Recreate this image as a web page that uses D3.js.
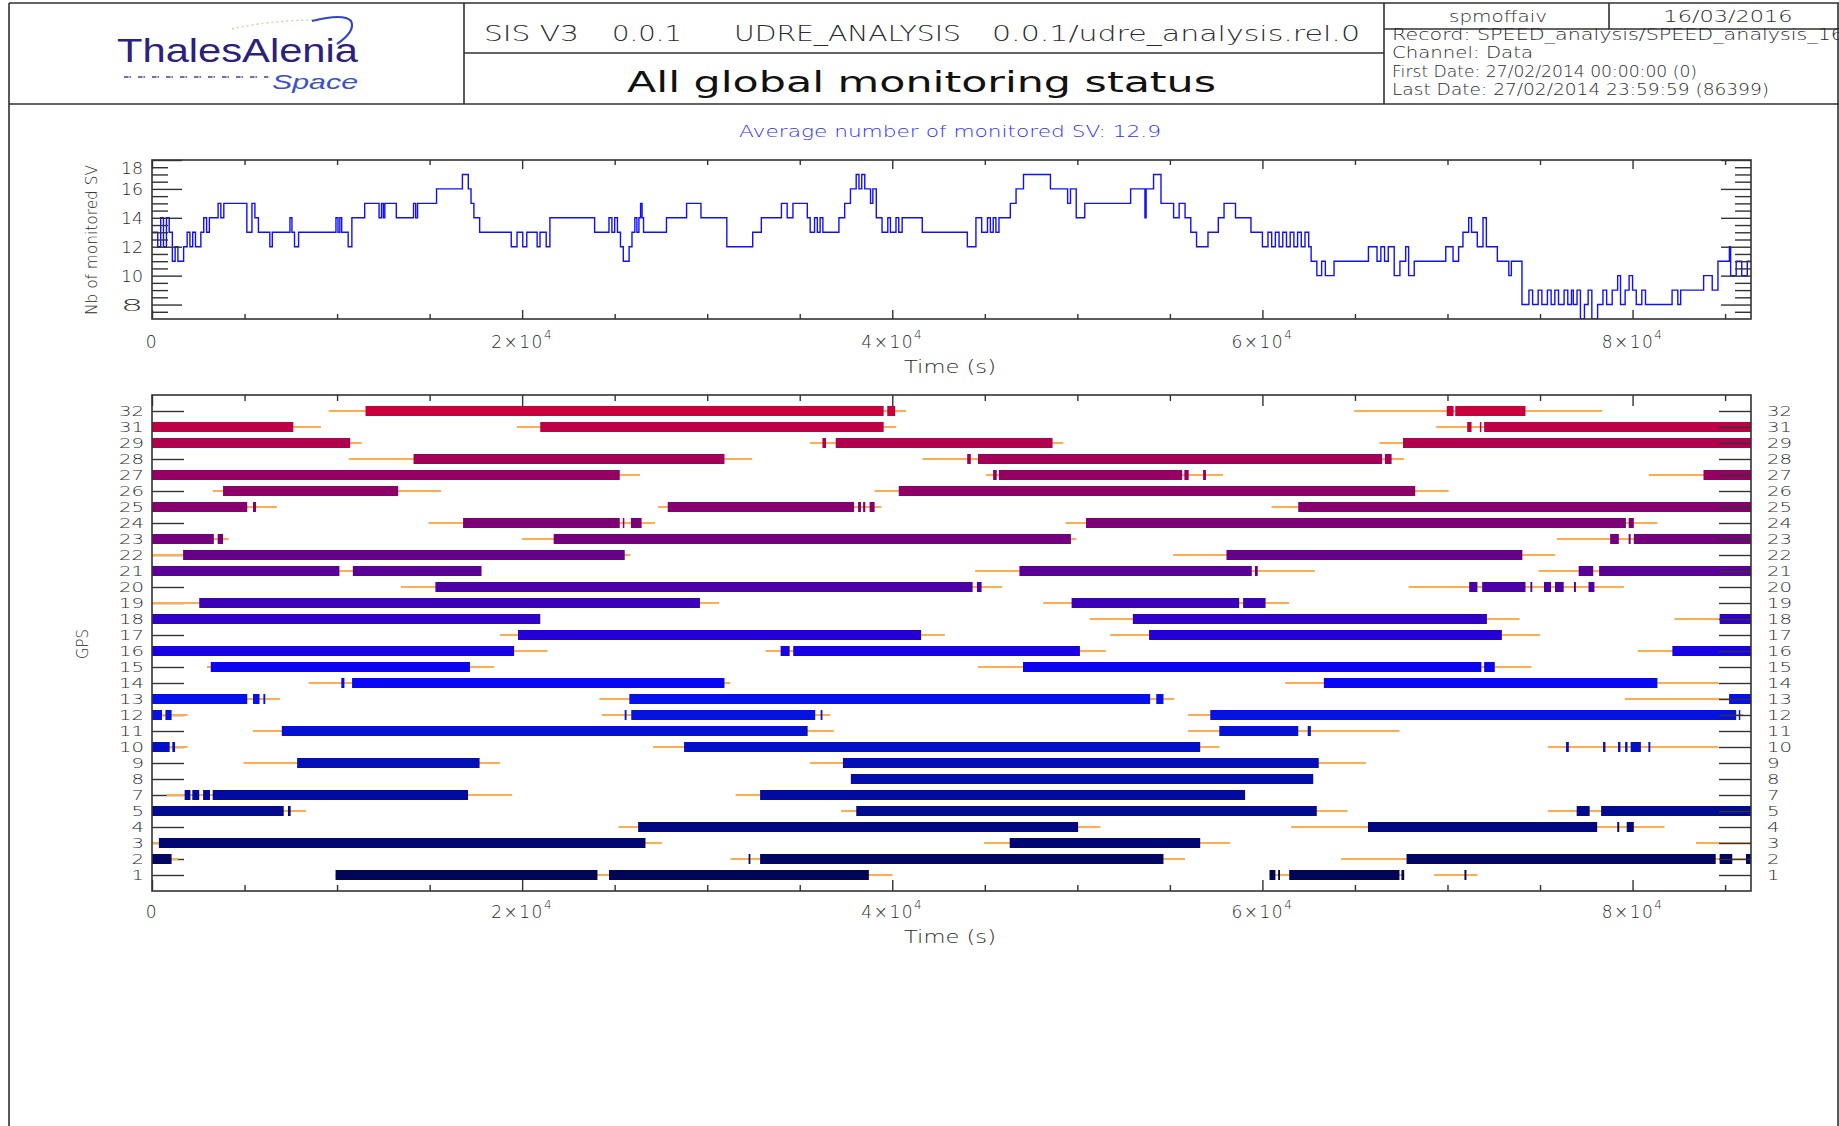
<!DOCTYPE html>
<html>
<head>
<meta charset="utf-8">
<title>All global monitoring status</title>
<script src="https://cdn.jsdelivr.net/npm/d3@7"></script>
<style>
  html, body { margin: 0; padding: 0; background: #fff; }
  svg { display: block; }
</style>
</head>
<body>
<svg id="chart" width="1839" height="1126"></svg>
<script>
// ---------------------------------------------------------------------------
// Data
// ---------------------------------------------------------------------------

// Header texts
const headerVersion = ["SIS V3", "0.0.1", "UDRE_ANALYSIS", "0.0.1/udre_analysis.rel.0"];
const headerTitle = "All global monitoring status";
const headerUser = "spmoffaiv";
const headerDate = "16/03/2016";
const headerInfo = [
  "Record: SPEED_analysis/SPEED_analysis_16",
  "Channel: Data",
  "First Date: 27/02/2014 00:00:00 (0)",
  "Last Date: 27/02/2014 23:59:59 (86399)"
];

// Time axis (seconds of day)
const timeDomain = [0, 86400];
const timeMajorTicks = [0, 20000, 40000, 60000, 80000];
const timeTickMantissa = ["0", "2", "4", "6", "8"];
const timeMinorTicks = d3.range(0, 86401, 5000);

// Number of monitored satellites: [time (s), count] step changes
const avgMonitored = 12.9;
const svSteps = [
  [0,13],[310,12],[470,14],[620,12],[780,14],[930,13],[1100,11],[1250,12],[1400,11],
  [1708,12],[1900,13],[2050,12],[2200,13],[2350,12],[2640,13],[2795,14],[2950,13],
  [3100,14],[3572,15],[3720,14],[3880,15],[5125,13],[5400,15],[5560,14],[5750,13],
  [6367,12],[6500,13],[7454,14],[7560,13],[7700,12],[7920,13],[9940,14],[10050,13],
  [10150,14],[10250,13],[10600,12],[10800,14],[11492,15],[12269,14],[12400,15],
  [12500,14],[12580,15],[13201,14],[14132,15],[14250,14],[14350,15],[15375,16],
  [16772,17],[17090,16],[17238,15],[17393,14],[17704,13],[19412,12],[19723,13],
  [20034,12],[20250,13],[20810,12],[20965,13],[21300,12],[21500,14],[23916,13],
  [24692,14],[24850,13],[25000,14],[25150,13],[25313,12],[25468,11],[25780,12],
  [25935,13],[26090,14],[26200,13],[26310,14],[26400,15],[26480,14],[26560,13],
  [27798,14],[28886,15],[29662,14],[31060,12],[32458,13],[32924,14],[34011,15],
  [34321,14],[34632,15],[35408,14],[35564,13],[35800,14],[35950,13],[36100,14],
  [36250,13],[37117,14],[37428,15],[37739,16],[38050,17],[38200,16],[38350,17],
  [38514,16],[38825,15],[38950,16],[39136,14],[39447,13],[39758,14],[39900,13],
  [40200,14],[40350,13],[40533,14],[41620,13],[44056,12],[44520,14],[44830,13],
  [45145,14],[45300,13],[45455,14],[45600,13],[45765,14],[46378,15],[46688,16],
  [47090,17],[48545,16],[49474,15],[49629,16],[49938,14],[50402,15],[52879,16],
  [53653,14],[53715,16],[54118,17],[54520,15],[55201,14],[55500,15],[55820,14],
  [56130,13],[56440,12],[57059,13],[57616,14],[57926,15],[58545,14],[59381,13],
  [60000,12],[60300,13],[60500,12],[60700,13],[60900,12],[61100,13],[61300,12],
  [61500,13],[61700,12],[61900,13],[62100,12],[62300,13],[62500,12],[62632,11],
  [62941,10],[63200,11],[63400,10],[63870,11],[65728,12],[66192,11],[66400,12],
  [66600,11],[66800,12],[67121,10],[67430,11],[67740,12],[67900,10],[68204,11],
  [69907,12],[70300,11],[70600,12],[70836,13],[71146,14],[71300,13],[71610,12],
  [71920,14],[72100,12],[72694,11],[73313,10],[73450,11],[74025,8],[74400,9],
  [74600,8],[74900,9],[75100,8],[75400,9],[75600,8],[75800,9],[76000,8],[76300,9],
  [76500,8],[76700,9],[76800,8],[77000,9],[77183,7],[77400,8],[77600,9],[77800,7],
  [78112,8],[78400,9],[78600,8],[78900,9],[79195,10],[79350,8],[79600,9],[79814,10],
  [80000,9],[80200,8],[80500,9],[80700,8],[82136,9],[82446,8],[82600,9],[83840,10],
  [84305,9],[84614,11],[85233,12],[85300,10],[85600,11],[85900,10],[86200,11]
];
const svTickLabels = [8, 10, 12, 14, 16, 18];
const svDomain = [7, 18];

// GPS PRNs shown, top row first
const prnOrder = [32,31,29,28,27,26,25,24,23,22,21,20,19,18,17,16,15,14,13,12,11,10,9,8,7,5,4,3,2,1];

// Periods during which each PRN is monitored: [prn, start (s), end (s)]
const monitoredSpans = [
  [32,11537,39533],[32,39728,40156],[32,69959,70330],[32,70420,74215],
  [31,0,7636],[31,20978,39533],[31,71066,71300],[31,71750,71830],[31,71981,86400],
  [29,0,10707],[29,36225,36420],[29,36945,48660],[29,67597,86400],
  [28,14131,30932],[28,44048,44243],[28,44631,66469],[28,66618,66980],
  [27,0,25274],[27,45449,45643],[27,45760,55665],[27,55782,56016],[27,56794,56950],[27,83834,86400],
  [26,3839,13301],[26,40350,68257],
  [25,0,5146],[25,5457,5623],[25,27867,37937],[25,38151,38307],[25,38424,38541],[25,38774,39046],[25,61936,86400],
  [24,16808,25274],[24,25440,25520],[24,25876,26456],[24,50469,79641],[24,79790,80067],
  [23,0,3341],[23,3548,3839],[23,21704,49652],[23,78790,79258],[23,79790,79897],[23,80067,86400],
  [22,1681,25543],[22,58059,74045],
  [21,0,10126],[21,10852,17804],[21,46869,59425],[21,59596,59745],[21,77088,77875],[21,78194,86400],
  [20,15314,44340],[20,44573,44826],[20,71172,71619],[20,71874,74215],[20,74480,74580],
  [20,75215,75598],[20,75811,76279],[20,76833,76939],[20,77620,77939],
  [19,2552,29609],[19,49691,58744],[19,58957,60170],
  [18,0,20978],[18,52999,72130],[18,84706,86400],
  [17,19775,41557],[17,53875,72938],
  [16,0,19567],[16,33967,34454],[16,34649,50139],[16,82152,86400],
  [15,3175,17181],[15,47064,71832],[15,71981,72555],
  [14,10230,10396],[14,10811,30932],[14,63320,81344],
  [13,0,5146],[13,5457,5810],[13,6018,6121],[13,25792,53933],[13,54264,54653],[13,85217,86400],
  [12,0,540],[12,726,1058],[12,25540,25640],[12,25896,35836],[12,36128,36225],[12,57183,85600],[12,85740,85820],
  [11,7014,35427],[11,57670,61936],[11,62447,62617],
  [10,0,955],[10,1100,1245],[10,28750,56638],[10,76407,76556],[10,78407,78535],
  [10,79216,79344],[10,79599,79727],[10,79897,80450],[10,80854,80961],
  [9,7843,17700],[9,37334,63043],
  [8,37762,62745],
  [7,1764,2075],[7,2179,2552],[7,2760,3133],[7,3279,17077],[7,32858,59064],
  [5,0,7117],[5,7346,7491],[5,38054,62937],[5,76981,77683],[5,78301,86400],
  [4,26269,50041],[4,65703,78088],[4,79173,79280],[4,79684,80067],
  [3,374,26664],[3,46344,56638],
  [2,0,1058],[2,32236,32333],[2,32858,54653],[2,67788,84493],[2,84706,85387],[2,86130,86400],
  [1,9919,24070],[1,24693,38735],[1,60383,60702],[1,60850,60950],[1,61447,67405],[1,67512,67661],[1,70917,71023]
];

// Periods during which each PRN is in view: [prn, start (s), end (s)]
const visibleSpans = [
  [32,9545,40740],[32,64958,78365],
  [31,0,9130],[31,19712,40214],[31,69385,86400],
  [29,0,11330],[29,35544,49244],[29,66320,86400],
  [28,10645,32430],[28,41635,67661],
  [27,0,26373],[27,45060,57864],[27,80876,86400],
  [26,3279,15625],[26,39046,70065],
  [25,0,6744],[25,27349,39416],[25,60489,86400],
  [24,14940,27183],[24,49360,81344],
  [23,0,4150],[23,19982,49944],[23,75917,86400],
  [22,0,25855],[22,55179,75811],
  [21,0,17804],[21,44476,62830],[21,74917,86400],
  [20,13446,45935],[20,67895,79535],
  [19,0,30641],[19,48154,61447],
  [18,0,20978],[18,50664,73896],[18,82259,86400],
  [17,18800,42841],[17,51773,75002],
  [16,0,21372],[16,33150,51540],[16,80280,86400],
  [15,2967,18488],[15,44632,74534],
  [14,8466,31244],[14,61234,84650],
  [13,0,6910],[13,24174,55237],[13,79578,86400],
  [12,0,1930],[12,24298,36653],[12,55977,86000],
  [11,5457,36847],[11,55977,67405],
  [10,0,1930],[10,27079,57670],[10,75428,84642],
  [9,4939,18800],[9,35544,65597],
  [8,37762,62745],
  [7,788,19464],[7,31535,59064],
  [5,0,8321],[5,37237,64596],[5,75428,86400],
  [4,25200,51248],[4,61553,81727],
  [3,0,27556],[3,44963,58254],[3,83430,86400],
  [2,0,1411],[2,31263,55821],[2,64256,86400],
  [1,9919,40019],[1,60383,67661],[1,69278,71619]
];

// Row colours, same order as prnOrder
const prnColors = [
  "#c8003c","#be0046","#b0004e","#a20058","#960062","#8e0068","#86006e","#7e0076",
  "#74007e","#660088","#5a0096","#4c00a6","#3c00b8","#3000c6","#2400d6","#1800e4",
  "#0c04f0","#0808f4","#0610ee","#0612e0","#0510d2","#0410c6","#040fb8","#030dac",
  "#020b9e","#020a8e","#010880","#010772","#010664","#000556"
];

// ---------------------------------------------------------------------------
// Drawing
// ---------------------------------------------------------------------------
const FONT = '"DejaVu Sans", "Liberation Sans", sans-serif';
const THIN = 200;            // light strokes, close to a plotter-style font
const INK = "#2b2b2b";
const svg = d3.select("#chart");

// ---- page frame and header cells ----
const frame = svg.append("g").attr("stroke", "#303030").attr("stroke-width", 1.6).attr("fill", "none");
[
  [9, 3, 1839, 3],        // top
  [9, 3, 9, 1126],        // left page border
  [1838, 3, 1838, 1126],  // right page border
  [9, 104, 1839, 104],    // header bottom
  [464, 3, 464, 104],     // logo | title
  [1384, 3, 1384, 104],   // title | info
  [464, 53, 1384, 53],    // version | title
  [1384, 29, 1839, 29],   // user/date row
  [1609, 3, 1609, 29]     // user | date
].forEach(([x1, y1, x2, y2]) =>
  frame.append("line").attr("x1", x1).attr("y1", y1).attr("x2", x2).attr("y2", y2));

// ---- logo ----
const logo = svg.append("g");
logo.append("path")
  .attr("d", "M232,29 Q270,20 318,20")
  .attr("fill", "none").attr("stroke", "#b9dfa4").attr("stroke-width", 1.4)
  .attr("stroke-dasharray", "2,3");
logo.append("path")
  .attr("d", "M312,21 Q344,13 351,21 Q356,31 337,44")
  .attr("fill", "none").attr("stroke", "#3545c8").attr("stroke-width", 2.2);
logo.append("line")
  .attr("x1", 124).attr("y1", 77).attr("x2", 268).attr("y2", 77)
  .attr("stroke", "#4b3d9c").attr("stroke-width", 1.6).attr("stroke-dasharray", "7,7");
logo.append("line")
  .attr("x1", 128).attr("y1", 77).attr("x2", 270).attr("y2", 77)
  .attr("stroke", "#b9dfa4").attr("stroke-width", 1.4).attr("stroke-dasharray", "2,12");
logo.append("text")
  .attr("x", 117).attr("y", 62)
  .attr("textLength", 241).attr("lengthAdjust", "spacingAndGlyphs")
  .attr("font-family", '"Liberation Sans", sans-serif')
  .attr("font-size", 33).attr("fill", "#2c1f7e").text("ThalesAlenia");
logo.append("text")
  .attr("x", 272).attr("y", 88.5)
  .attr("textLength", 86).attr("lengthAdjust", "spacingAndGlyphs")
  .attr("font-family", '"Liberation Sans", sans-serif')
  .attr("font-style", "italic").attr("font-size", 21).attr("fill", "#3a50d4").text("Space");

// ---- title cells ----
const versionPos = [[484, 95], [612, 70], [734, 227], [992, 368]];
headerVersion.forEach((t, i) => {
  svg.append("text")
    .attr("x", versionPos[i][0]).attr("y", 41)
    .attr("textLength", versionPos[i][1]).attr("lengthAdjust", "spacingAndGlyphs")
    .attr("font-family", FONT).attr("font-weight", THIN)
    .attr("font-size", 21).attr("fill", INK).text(t);
});
svg.append("text")
  .attr("x", 627).attr("y", 92)
  .attr("textLength", 589).attr("lengthAdjust", "spacingAndGlyphs")
  .attr("font-family", FONT).attr("font-weight", 400)
  .attr("font-size", 28).attr("fill", "#111").text(headerTitle);

// ---- info cells ----
svg.append("text").attr("x", 1498).attr("y", 22).attr("text-anchor", "middle")
  .attr("textLength", 98).attr("lengthAdjust", "spacingAndGlyphs")
  .attr("font-family", FONT).attr("font-weight", THIN)
  .attr("font-size", 15).attr("fill", INK).text(headerUser);
svg.append("text").attr("x", 1728).attr("y", 22).attr("text-anchor", "middle")
  .attr("textLength", 129).attr("lengthAdjust", "spacingAndGlyphs")
  .attr("font-family", FONT).attr("font-weight", THIN)
  .attr("font-size", 15).attr("fill", INK).text(headerDate);
const infoY = [40, 58, 77, 95];
const infoLen = [452, 141, 305, 377];
headerInfo.forEach((t, i) => {
  svg.append("text").attr("x", 1392).attr("y", infoY[i])
    .attr("textLength", infoLen[i]).attr("lengthAdjust", "spacingAndGlyphs")
    .attr("font-family", FONT).attr("font-weight", THIN)
    .attr("font-size", 15).attr("fill", INK).text(t);
});

// ---- shared helpers ----
const xTime = d3.scaleLinear().domain(timeDomain).range([152, 1751]);

function timeTicks(g, y0, y1, majorLen, minorLen) {
  const minor = timeMinorTicks.filter(v => v % 20000 !== 0);
  const sets = [[minor, minorLen], [timeMajorTicks, majorLen]];
  sets.forEach(([vals, len]) => {
    g.append("g").attr("transform", `translate(0,${y0})`)
      .call(d3.axisTop(xTime).tickValues(vals).tickSize(-len).tickFormat(""))
      .call(a => a.select(".domain").remove());
    g.append("g").attr("transform", `translate(0,${y1})`)
      .call(d3.axisBottom(xTime).tickValues(vals).tickSize(-len).tickFormat(""))
      .call(a => a.select(".domain").remove());
  });
  g.selectAll(".tick line").attr("stroke", "#333").attr("stroke-width", 1.4);
}

function timeLabels(g, y) {
  timeMajorTicks.forEach((v, i) => {
    const t = g.append("text")
      .attr("x", xTime(v)).attr("y", y).attr("text-anchor", "middle")
      .attr("font-family", FONT).attr("font-weight", THIN)
      .attr("font-size", 17).attr("letter-spacing", 1.5).attr("fill", INK);
    if (v === 0) { t.text("0"); return; }
    t.append("tspan").text(timeTickMantissa[i] + "\u00d710");
    t.append("tspan").attr("dy", -9).attr("font-size", 12).text("4");
  });
}

function frameRect(g, x0, y0, x1, y1) {
  g.append("rect").attr("x", x0).attr("y", y0).attr("width", x1 - x0).attr("height", y1 - y0)
    .attr("fill", "none").attr("stroke", "#333").attr("stroke-width", 1.6);
}

// ---------------------------------------------------------------------------
// Upper panel: number of monitored satellites
// ---------------------------------------------------------------------------
const upperBox = { t: 160, b: 319 };
const ySv = d3.scaleLinear().domain(svDomain).range([upperBox.b, upperBox.t]);
const gTop = svg.append("g");

svg.append("text")
  .attr("x", 950).attr("y", 137).attr("text-anchor", "middle")
  .attr("textLength", 422).attr("lengthAdjust", "spacingAndGlyphs")
  .attr("font-family", FONT).attr("font-weight", THIN)
  .attr("font-size", 16).attr("fill", "#2f2fff")
  .text(`Average number of monitored SV: ${avgMonitored}`);

svg.append("defs").append("clipPath").attr("id", "clipTop")
  .append("rect").attr("x", 152).attr("y", upperBox.t).attr("width", 1599).attr("height", upperBox.b - upperBox.t);

const svPoints = svSteps.concat([[timeDomain[1], svSteps[svSteps.length - 1][1]]]);
const svLine = d3.line()
  .x(d => xTime(d[0])).y(d => ySv(d[1]))
  .curve(d3.curveStepAfter);
gTop.append("path")
  .attr("clip-path", "url(#clipTop)")
  .attr("d", svLine(svPoints))
  .attr("fill", "none").attr("stroke", "#1010ff").attr("stroke-width", 1.4);

// y ticks, both sides, pointing inward
const svMinor = d3.range(7.5, 18, 0.5).filter(v => !svTickLabels.includes(v));
const leftMajor = gTop.append("g").attr("transform", "translate(152,0)")
  .call(d3.axisLeft(ySv).tickValues(svTickLabels).tickSize(-30).tickPadding(9));
gTop.append("g").attr("transform", "translate(152,0)")
  .call(d3.axisLeft(ySv).tickValues(svMinor).tickSize(-16).tickFormat(""));
gTop.append("g").attr("transform", "translate(1751,0)")
  .call(d3.axisRight(ySv).tickValues(svTickLabels).tickSize(-30).tickFormat(""));
gTop.append("g").attr("transform", "translate(1751,0)")
  .call(d3.axisRight(ySv).tickValues(svMinor).tickSize(-16).tickFormat(""));
gTop.selectAll(".domain").remove();
gTop.selectAll(".tick line").attr("stroke", "#444").attr("stroke-width", 1.3);
leftMajor.selectAll("text")
  .attr("font-family", FONT).attr("font-weight", THIN)
  .attr("font-size", 16).attr("fill", INK)
  .attr("textLength", 22).attr("lengthAdjust", "spacingAndGlyphs")
  .attr("dy", d => d === 18 ? "0.85em" : "0.36em");

timeTicks(gTop, upperBox.t, upperBox.b, 9, 5);
frameRect(gTop, 152, upperBox.t, 1751, upperBox.b);
timeLabels(gTop, 348);

gTop.append("text").attr("x", 950).attr("y", 373).attr("text-anchor", "middle")
  .attr("textLength", 92).attr("lengthAdjust", "spacingAndGlyphs")
  .attr("font-family", FONT).attr("font-weight", THIN)
  .attr("font-size", 17).attr("fill", INK).text("Time (s)");
gTop.append("text")
  .attr("transform", "translate(97,240) rotate(-90)").attr("text-anchor", "middle")
  .attr("textLength", 150).attr("lengthAdjust", "spacingAndGlyphs")
  .attr("font-family", FONT).attr("font-weight", THIN)
  .attr("font-size", 15).attr("fill", INK).text("Nb of monitored SV");

// ---------------------------------------------------------------------------
// Lower panel: per-PRN visibility and monitoring periods
// ---------------------------------------------------------------------------
const lowerBox = { t: 395, b: 891 };
const yPrn = d3.scalePoint().domain(prnOrder).range([lowerBox.t, lowerBox.b]).padding(1);
const colorOf = d3.scaleOrdinal().domain(prnOrder).range(prnColors);
const gLow = svg.append("g");

// left ticks and labels sit under the bars
const leftAxis = gLow.append("g").attr("transform", "translate(152,0)")
  .call(d3.axisLeft(yPrn).tickSize(-32).tickPadding(8));

// in-view periods: thin orange lines
gLow.append("g").selectAll("line").data(visibleSpans).join("line")
  .attr("x1", d => xTime(d[1])).attr("x2", d => xTime(d[2]))
  .attr("y1", d => yPrn(d[0])).attr("y2", d => yPrn(d[0]))
  .attr("stroke", "#ffad4f").attr("stroke-width", 2);

// monitored periods: thick coloured bars
const barH = 10;
gLow.append("g").selectAll("rect").data(monitoredSpans).join("rect")
  .attr("x", d => xTime(d[1]))
  .attr("width", d => Math.max(1.5, xTime(d[2]) - xTime(d[1])))
  .attr("y", d => yPrn(d[0]) - barH / 2).attr("height", barH)
  .attr("fill", d => colorOf(d[0]));

// right ticks and labels drawn over the bars
const rightAxis = gLow.append("g").attr("transform", "translate(1751,0)")
  .call(d3.axisRight(yPrn).tickSize(-32).tickPadding(16));

[leftAxis, rightAxis].forEach(a => {
  a.select(".domain").remove();
  a.selectAll(".tick line").attr("stroke", "#3a3a3a").attr("stroke-width", 1.4);
  a.selectAll("text")
    .attr("font-family", FONT).attr("font-weight", THIN)
    .attr("font-size", 13.5).attr("fill", INK).attr("dy", "0.36em")
    .attr("textLength", d => String(d).length * 12.5)
    .attr("lengthAdjust", "spacingAndGlyphs");
});

timeTicks(gLow, lowerBox.t, lowerBox.b, 11, 6);
frameRect(gLow, 152, lowerBox.t, 1751, lowerBox.b);
timeLabels(gLow, 918);

gLow.append("text").attr("x", 950).attr("y", 943).attr("text-anchor", "middle")
  .attr("textLength", 92).attr("lengthAdjust", "spacingAndGlyphs")
  .attr("font-family", FONT).attr("font-weight", THIN)
  .attr("font-size", 17).attr("fill", INK).text("Time (s)");
gLow.append("text")
  .attr("transform", "translate(88,644) rotate(-90)").attr("text-anchor", "middle")
  .attr("textLength", 30).attr("lengthAdjust", "spacingAndGlyphs")
  .attr("font-family", FONT).attr("font-weight", THIN)
  .attr("font-size", 15).attr("fill", INK).text("GPS");
</script>
</body>
</html>
